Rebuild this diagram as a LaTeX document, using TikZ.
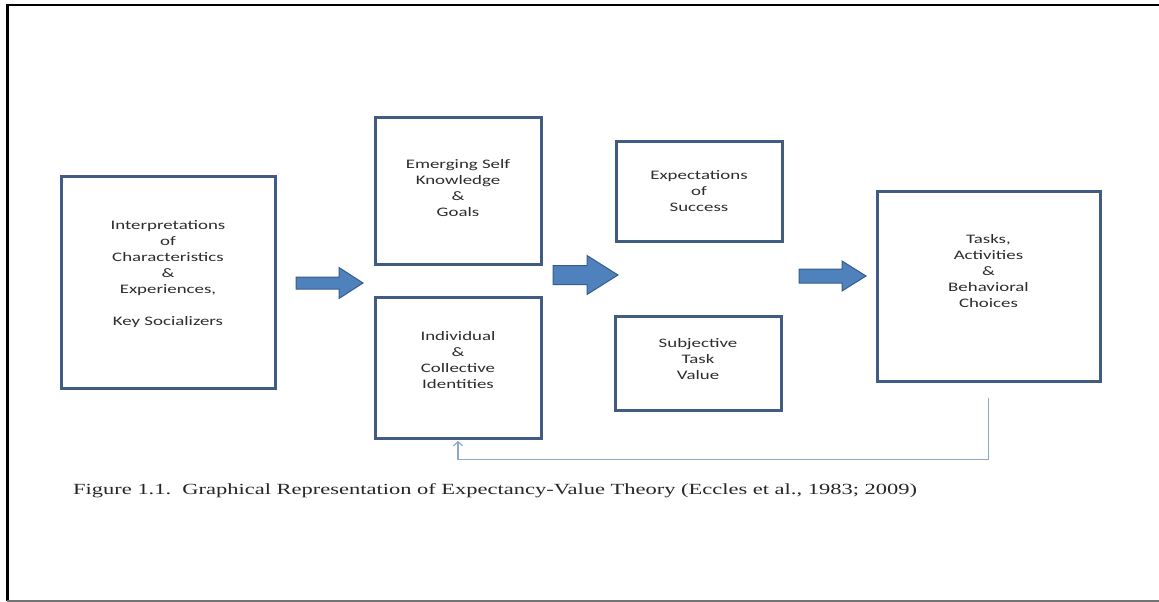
\documentclass[tikz,border=0pt]{standalone}
\usepackage{fontspec}
\usepackage{tikz}
\usepackage{xcolor}
\usetikzlibrary{arrows.meta,calc,positioning}
\newfontfamily\evboxfont[FakeStretch=1.45]{Carlito}
\newfontfamily\evcapfont[FakeStretch=1.45]{Liberation Serif}
\definecolor{evFrame}{RGB}{64,92,130}
\definecolor{evBlue}{RGB}{79,129,189}
\definecolor{evBlueEdge}{RGB}{56,93,138}
\definecolor{evLoop}{RGB}{140,170,200}
\definecolor{evInk}{RGB}{45,45,45}
\newcommand{\evarrow}[6]{%
  \begin{scope}[shift={(#1,#2)}]
    \draw[evblock] (0,-#5)--(#3,-#5)--(#3,-#6)--(#3+#4,0)--(#3,#6)--(#3,#5)--(0,#5)--cycle;
  \end{scope}
}

\begin{document}
\begin{tikzpicture}[x=1pt,y=-1pt,
    evbox/.style={draw=evFrame,line width=3pt,fill=white,inner sep=0pt},
    evtext/.style={align=center,text=evInk,inner sep=0pt,
      font=\evboxfont\fontsize{13}{16}\selectfont},
    evblock/.style={fill=evBlue,draw=evBlueEdge,line width=1pt,line join=miter},
    fbline/.style={draw=evLoop,line width=1.2pt,-{Straight Barb[length=4pt,width=9pt]}}]
  \useasboundingbox (0,0) rectangle (1159,602);
  % page frame
  \draw[line width=2.5pt] (6,5) -- (1159,5);
  \draw[line width=3pt] (7,4) -- (7,601);
  \draw[line width=1.5pt,black!55] (7,601) -- (1159,601);

  % boxes
  \node[evbox,minimum width=214pt,minimum height=212pt] (interp) at (168,282) {};
  \node[evbox,minimum width=166pt,minimum height=147pt] (selfknow) at (458,190.5) {};
  \node[evbox,minimum width=166pt,minimum height=141pt,below=30pt of selfknow] (identity) {};
  \node[evbox,minimum width=166pt,minimum height=100pt] (expect) at (699,191) {};
  \node[evbox,minimum width=166pt,minimum height=94pt] (taskval) at (698,363) {};
  \node[evbox,minimum width=223pt,minimum height=190pt] (choices) at (988.5,286) {};

  % box texts
  \node[evtext] (interpTxt) at ([yshift=8pt]interp.center)
    {Interpretations\\of\\Characteristics\\\&\\Experiences,\\[16pt]Key Socializers};
  \node[evtext] (selfknowTxt) at ([yshift=2pt]selfknow.center)
    {Emerging Self\\Knowledge\\\&\\Goals};
  \node[evtext] (identityTxt) at ([yshift=7pt]identity.center)
    {Individual\\\&\\Collective\\Identities};
  \node[evtext] (expectTxt) at (expect.center) {Expectations\\of\\Success};
  \node[evtext] (taskvalTxt) at ([yshift=4pt]taskval.center) {Subjective\\Task\\Value};
  \node[evtext] (choicesTxt) at ([yshift=15pt]choices.center)
    {Tasks,\\Activities\\\&\\Behavioral\\Choices};

  % block arrows
  \evarrow{296}{283}{43}{24}{6}{15.5}
  \evarrow{553}{275}{34}{31}{9.5}{19.5}
  \evarrow{799}{276}{43}{24}{7}{15}

  % feedback loop
  \coordinate (fbstart) at ([yshift=-15pt]choices.south);
  \draw[fbline] (fbstart) |- ([yshift=-20pt]identity.south) -- ([yshift=-1.5pt]identity.south);

  % caption
  \node[anchor=base west,inner sep=0pt,text=black!85,
        font=\evcapfont\fontsize{15.5}{18}\selectfont] (caption) at (73,494)
    {Figure 1.1.\ \ Graphical Representation of Expectancy-Value Theory (Eccles et al., 1983; 2009)};
\end{tikzpicture}
\end{document}
